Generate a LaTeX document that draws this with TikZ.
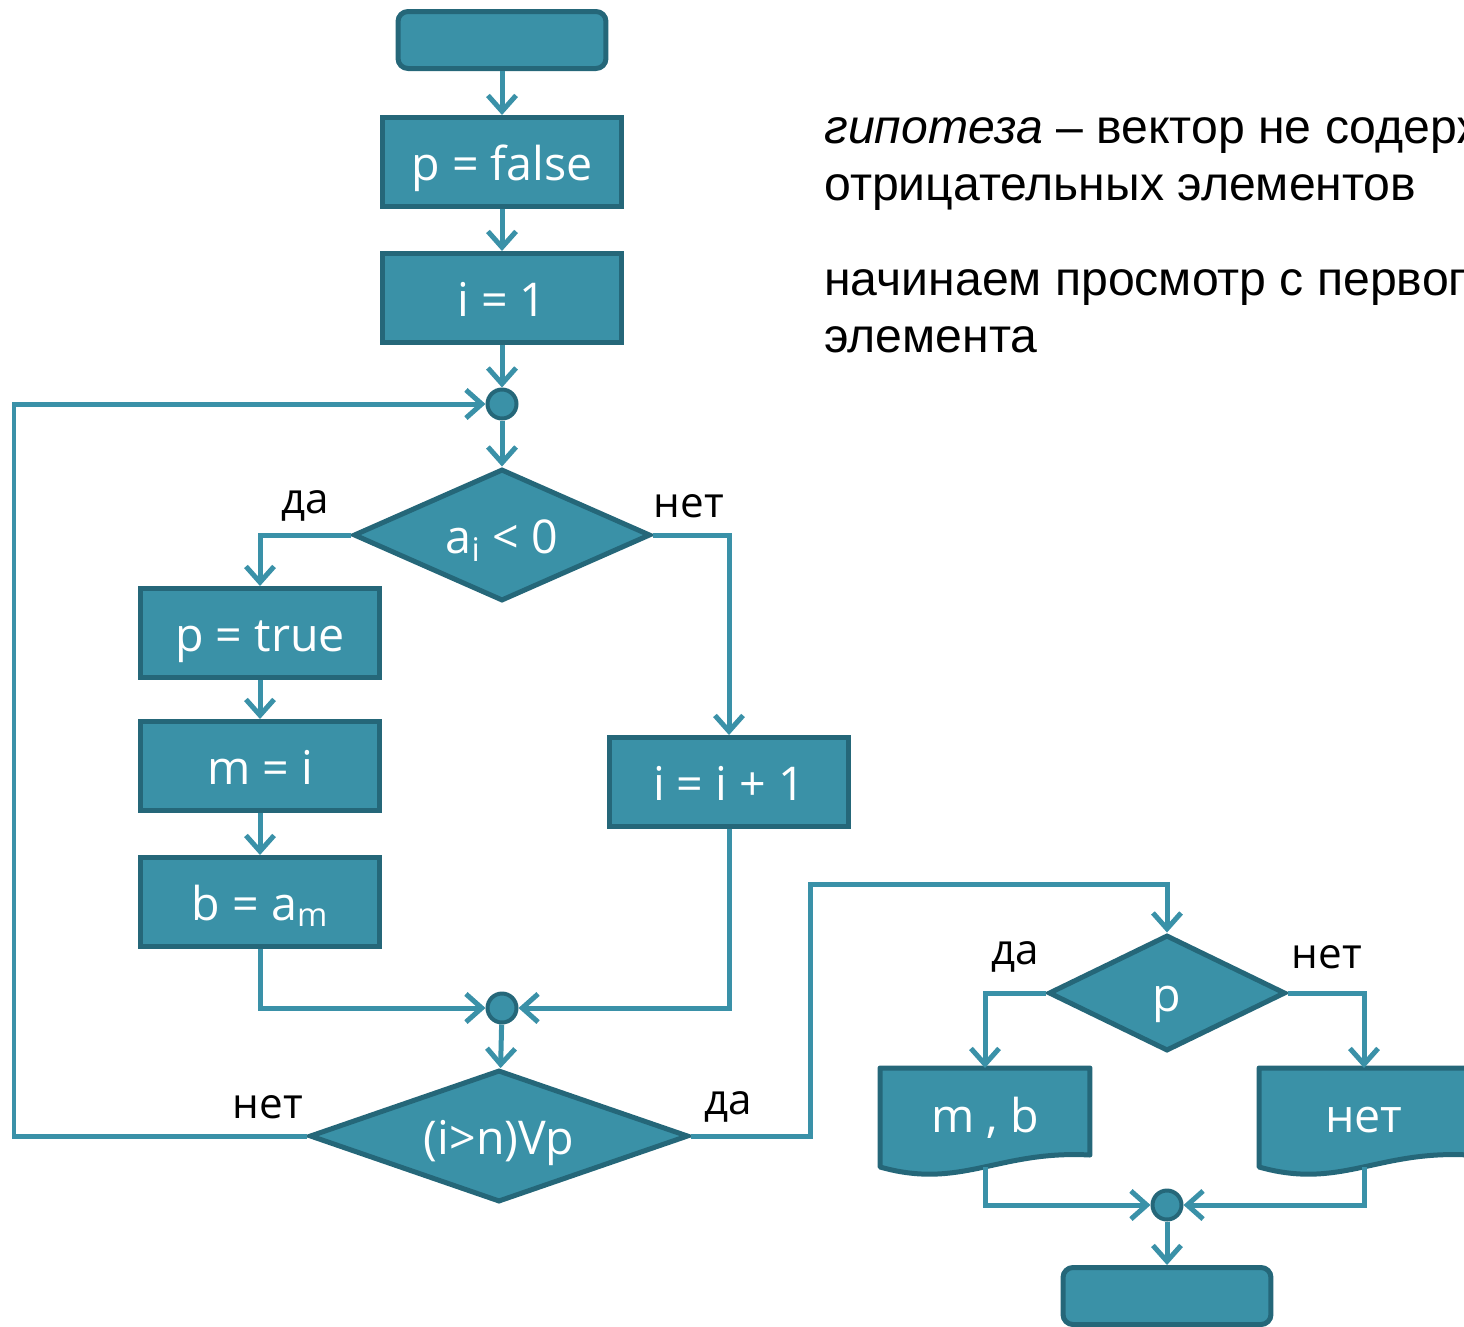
\documentclass[tikz,border=0pt]{standalone}
\usepackage{fontspec}
\setmainfont{Open Sans}
\newfontfamily\arialfont{Liberation Sans}
\usetikzlibrary{shapes.geometric,arrows.meta,calc,backgrounds}
\definecolor{blockfill}{RGB}{58,145,167}
\definecolor{blockline}{RGB}{37,103,121}
\definecolor{flowline}{RGB}{58,145,168}
\newcommand{\boxfont}{\fontsize{26.5}{31}\selectfont}
\newcommand{\labelfont}{\fontsize{24}{28}\selectfont}
\newcommand{\notefont}{\arialfont\fontsize{27.4}{32}\selectfont}
% output block: box with a wavy bottom edge
\newcommand{\docoutline}[1]{%
  \begin{pgfonlayer}{background}
    \filldraw[fill=blockfill,draw=blockline,line width=0.1cm,line join=round]
      (#1.north west) -- (#1.north east) -- ($(#1.south east)+(0,-5)$)
      .. controls ($(#1.south east)+(-92,-10)$) and ($(#1.south west)+(81,30)$) .. ($(#1.south west)+(0,7)$) -- cycle;
  \end{pgfonlayer}}

\begin{document}
\begin{tikzpicture}[x=0.02cm,y=-0.02cm,
    block/.style={rectangle,fill=blockfill,draw=blockline,line width=0.1cm,minimum width=4.8cm,minimum height=1.78cm,text=white,font=\boxfont,text height=0.72cm,text depth=0cm},
    term/.style={block,rounded corners=0.2cm,minimum width=4.16cm,minimum height=1.14cm},
    cond/.style={diamond,fill=blockfill,draw=blockline,line width=0.1cm,inner sep=0pt,text=white,font=\boxfont,text height=0.72cm,text depth=0cm},
    docbox/.style={rectangle,minimum width=4.2cm,minimum height=1.84cm,outer sep=0pt,text=white,font=\boxfont,text height=0.72cm,text depth=0cm},
    joint/.style={circle,fill=blockfill,draw=blockline,line width=0.08cm,minimum size=0.58cm,inner sep=0pt},
    flow/.style={flowline,line width=0.1cm,-{Straight Barb[length=9pt,width=16pt]}},
    yesno/.style={font=\labelfont,text=black},
    note/.style={font=\notefont,text=black,anchor=base west,inner sep=0pt}]
    \useasboundingbox (0,0) rectangle (1464,1326);
    \clip (0,0) rectangle (1464,1326);

    \node[term] (start) at (502,40) {};
    \node[block] (pfalse) at (502,162) {p = false};
    \node[block] (ione) at (502,298) {i = 1};
    \node[joint] (j1) at (502,404) {};
    \node[cond,aspect=2.2,minimum width=5.94cm,minimum height=2.64cm] (neg) at (502,535) {a\textsubscript{i} < 0};
    \node[block] (ptrue) at (260,633) {p = true};
    \node[block] (mi) at (260,766) {m = i};
    \node[block] (bam) at (260,902) {b = a\textsubscript{m}};
    \node[block] (inc) at (729,782) {i = i + 1};
    \node[joint] (j2) at (502,1008) {};
    \node[cond,aspect=2.8,minimum width=7.58cm,minimum height=2.64cm] (stop) at (499,1136) {(i>n)Vp};
    \node[cond,aspect=2,minimum width=4.74cm,minimum height=2.32cm] (found) at (1167,993) {p};
    \node[docbox] (mb) at (985,1114) {m , b};
    \node[docbox] (none) at (1364,1114) {нет};
    \docoutline{mb}
    \docoutline{none}
    \node[joint] (j3) at (1167,1205) {};
    \node[term] (finish) at (1167,1296) {};

    \coordinate (back) at (14,404);
    \coordinate (fwd) at (810,884);

    \draw[flow] (start) -- (pfalse);
    \draw[flow] (pfalse) -- (ione);
    \draw[flow] (ione) -- (j1);
    \draw[flow] (j1) -- (neg);
    \draw[flow] (neg.west) -| (ptrue);
    \draw[flow] (neg.east) -| (inc);
    \draw[flow] (ptrue) -- (mi);
    \draw[flow] (mi) -- (bam);
    \draw[flow] (bam) |- (j2);
    \draw[flow] (inc) |- (j2);
    \draw[flow] (j2) -- (stop);
    \draw[flow] (stop.west) -| (back) -- (j1);
    \draw[flow] (stop.east) -| (fwd) -| (found);
    \draw[flow] (found.west) -| (mb);
    \draw[flow] (found.east) -| (none);
    \draw[flow] ([yshift=-0.14cm]mb.south) |- (j3);
    \draw[flow] ([yshift=-0.14cm]none.south) |- (j3);
    \draw[flow] (j3) -- (finish);

    \node[yesno] (yes1) at (305,506) {да};
    \node[yesno] (no1) at (689,506) {нет};
    \node[yesno] (no2) at (268,1107) {нет};
    \node[yesno] (yes2) at (728,1107) {да};
    \node[yesno] (yes3) at (1015,957) {да};
    \node[yesno] (no3) at (1327,957) {нет};

    \node[note] (hyp1) at (824,143) {\textit{гипотеза} – вектор не содержит};
    \node[note] (hyp2) at (824,200) {отрицательных элементов};
    \node[note] (first1) at (824,295) {начинаем просмотр с первого};
    \node[note] (first2) at (824,352) {элемента};
\end{tikzpicture}
\end{document}
